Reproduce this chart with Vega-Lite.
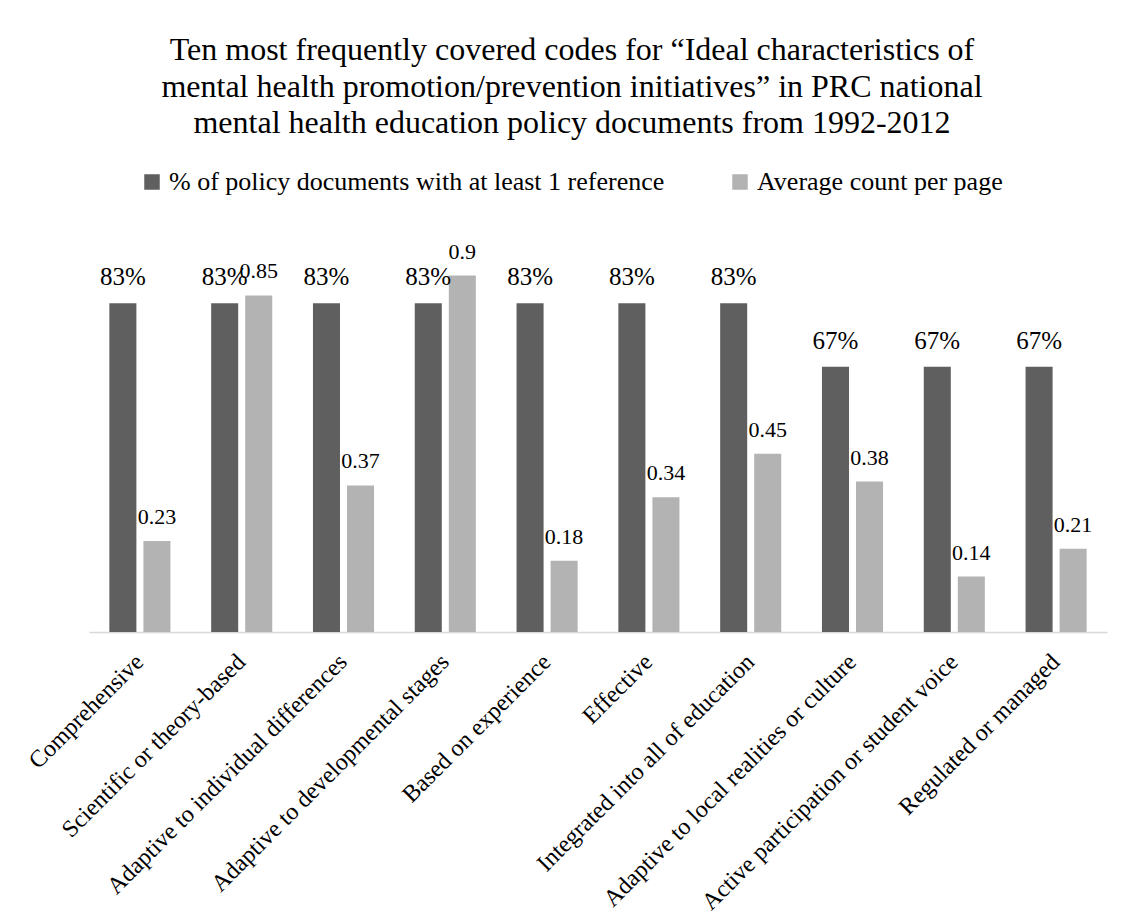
{
  "$schema": "https://vega.github.io/schema/vega-lite/v6.json",
  "width": 1018,
  "height": 396,
  "autosize": {"type": "none"},
  "padding": {"left": 89, "top": 236, "right": 16, "bottom": 292},
  "background": "white",
  "title": {
    "text": [
      "Ten most frequently covered codes for “Ideal characteristics of",
      "mental health promotion/prevention initiatives” in PRC national",
      "mental health education policy documents from 1992-2012"
    ],
    "font": "Liberation Serif",
    "fontSize": 32,
    "fontWeight": "normal",
    "color": "#000000",
    "lineHeight": 36.3,
    "anchor": "middle",
    "frame": "group",
    "dx": -26,
    "offset": 29
  },
  "data": {
    "values": [
      {"code": "Comprehensive", "series": "% of policy documents with at least 1 reference", "value": 0.83},
      {"code": "Comprehensive", "series": "Average count per page", "value": 0.23},
      {"code": "Scientific or theory-based", "series": "% of policy documents with at least 1 reference", "value": 0.83},
      {"code": "Scientific or theory-based", "series": "Average count per page", "value": 0.85},
      {"code": "Adaptive to individual differences", "series": "% of policy documents with at least 1 reference", "value": 0.83},
      {"code": "Adaptive to individual differences", "series": "Average count per page", "value": 0.37},
      {"code": "Adaptive to developmental stages", "series": "% of policy documents with at least 1 reference", "value": 0.83},
      {"code": "Adaptive to developmental stages", "series": "Average count per page", "value": 0.9},
      {"code": "Based on experience", "series": "% of policy documents with at least 1 reference", "value": 0.83},
      {"code": "Based on experience", "series": "Average count per page", "value": 0.18},
      {"code": "Effective", "series": "% of policy documents with at least 1 reference", "value": 0.83},
      {"code": "Effective", "series": "Average count per page", "value": 0.34},
      {"code": "Integrated into all of education", "series": "% of policy documents with at least 1 reference", "value": 0.83},
      {"code": "Integrated into all of education", "series": "Average count per page", "value": 0.45},
      {"code": "Adaptive to local realities or culture", "series": "% of policy documents with at least 1 reference", "value": 0.67},
      {"code": "Adaptive to local realities or culture", "series": "Average count per page", "value": 0.38},
      {"code": "Active participation or student voice", "series": "% of policy documents with at least 1 reference", "value": 0.67},
      {"code": "Active participation or student voice", "series": "Average count per page", "value": 0.14},
      {"code": "Regulated or managed", "series": "% of policy documents with at least 1 reference", "value": 0.67},
      {"code": "Regulated or managed", "series": "Average count per page", "value": 0.21}
    ]
  },
  "encoding": {
    "x": {
      "field": "code",
      "type": "nominal",
      "sort": null,
      "scale": {"paddingInner": 0.4, "paddingOuter": 0.2},
      "axis": {
        "title": null,
        "labelAngle": -45,
        "labelAlign": "right",
        "labelBaseline": "middle",
        "labelPadding": 26,
        "labelFont": "Liberation Serif",
        "labelFontSize": 24,
        "labelColor": "#000000",
        "labelLimit": 0,
        "ticks": false,
        "domainColor": "#d9d9d9",
        "domainWidth": 1.5
      }
    },
    "xOffset": {
      "field": "series",
      "type": "nominal",
      "scale": {
        "domain": ["% of policy documents with at least 1 reference", "Average count per page"],
        "paddingInner": 0.206,
        "paddingOuter": 0
      }
    },
    "y": {
      "field": "value",
      "type": "quantitative",
      "scale": {"domain": [0, 1], "nice": false},
      "axis": null
    }
  },
  "layer": [
    {
      "mark": {"type": "bar"},
      "encoding": {
        "color": {
          "field": "series",
          "type": "nominal",
          "scale": {
            "domain": ["% of policy documents with at least 1 reference", "Average count per page"],
            "range": ["#5f5f5f", "#b3b3b3"]
          },
          "legend": {
            "title": null,
            "orient": "none",
            "direction": "horizontal",
            "legendX": 50,
            "legendY": -67,
            "padding": 0,
            "symbolType": "square",
            "symbolSize": 240,
            "symbolStrokeWidth": 0,
            "symbolOpacity": 1,
            "labelFont": "Liberation Serif",
            "labelFontSize": 26,
            "labelColor": "#000000",
            "labelOffset": 4,
            "labelLimit": 0,
            "columnPadding": 62
          }
        }
      }
    },
    {
      "transform": [{"filter": "datum.series === '% of policy documents with at least 1 reference'"}],
      "mark": {"type": "text", "font": "Liberation Serif", "fontSize": 25, "baseline": "alphabetic", "dy": -18, "color": "#000000"},
      "encoding": {"text": {"field": "value", "type": "quantitative", "format": ".0%"}}
    },
    {
      "transform": [{"filter": "datum.series === 'Average count per page'"}],
      "mark": {"type": "text", "font": "Liberation Serif", "fontSize": 22, "baseline": "alphabetic", "dy": -17, "color": "#000000"},
      "encoding": {"text": {"field": "value", "type": "quantitative", "format": ".2~f"}}
    }
  ],
  "config": {
    "font": "Liberation Serif",
    "view": {"stroke": null},
    "axis": {"grid": false},
    "legend": {"labelFont": "Liberation Serif"},
    "title": {"font": "Liberation Serif"}
  }
}
